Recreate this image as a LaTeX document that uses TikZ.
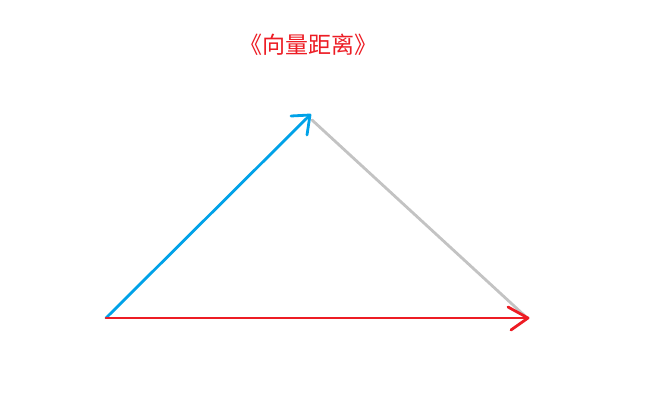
\documentclass[tikz,border=0pt]{standalone}
\usepackage{fontspec}
\newfontfamily\cjk{Noto Sans CJK SC}
\definecolor{vblue}{RGB}{0,162,232}
\definecolor{vred}{RGB}{237,28,36}
\definecolor{vgray}{RGB}{195,195,195}
\begin{document}
\begin{tikzpicture}[x=1pt,y=-1pt,
  vec/.style={line width=2.8pt,line cap=round,line join=round}]
\useasboundingbox[fill=white] (0,0) rectangle (653,411);
\node[text=vred,font=\cjk\fontsize{23}{27}\selectfont,inner sep=0pt] (title) at (308,45) {《向量距离》};
\coordinate (o) at (106,318);
\coordinate (b) at (310,115);
\coordinate (r) at (528,318);
\coordinate (g1) at (312,120);
\coordinate (g2) at (525,316);
\coordinate (ba1) at (291,116);
\coordinate (ba2) at (307,135);
\coordinate (ra1) at (508,307);
\coordinate (ra2) at (511,330);
\draw[vec,vgray] (g1) -- (g2);
\draw[vec,vblue] (o) -- (b);
\draw[vec,vblue] (ba1) -- (b) -- (ba2);
\draw[vec,vred] (o) -- (r);
\draw[vec,vred] (ra1) -- (r) -- (ra2);
\end{tikzpicture}
\end{document}
